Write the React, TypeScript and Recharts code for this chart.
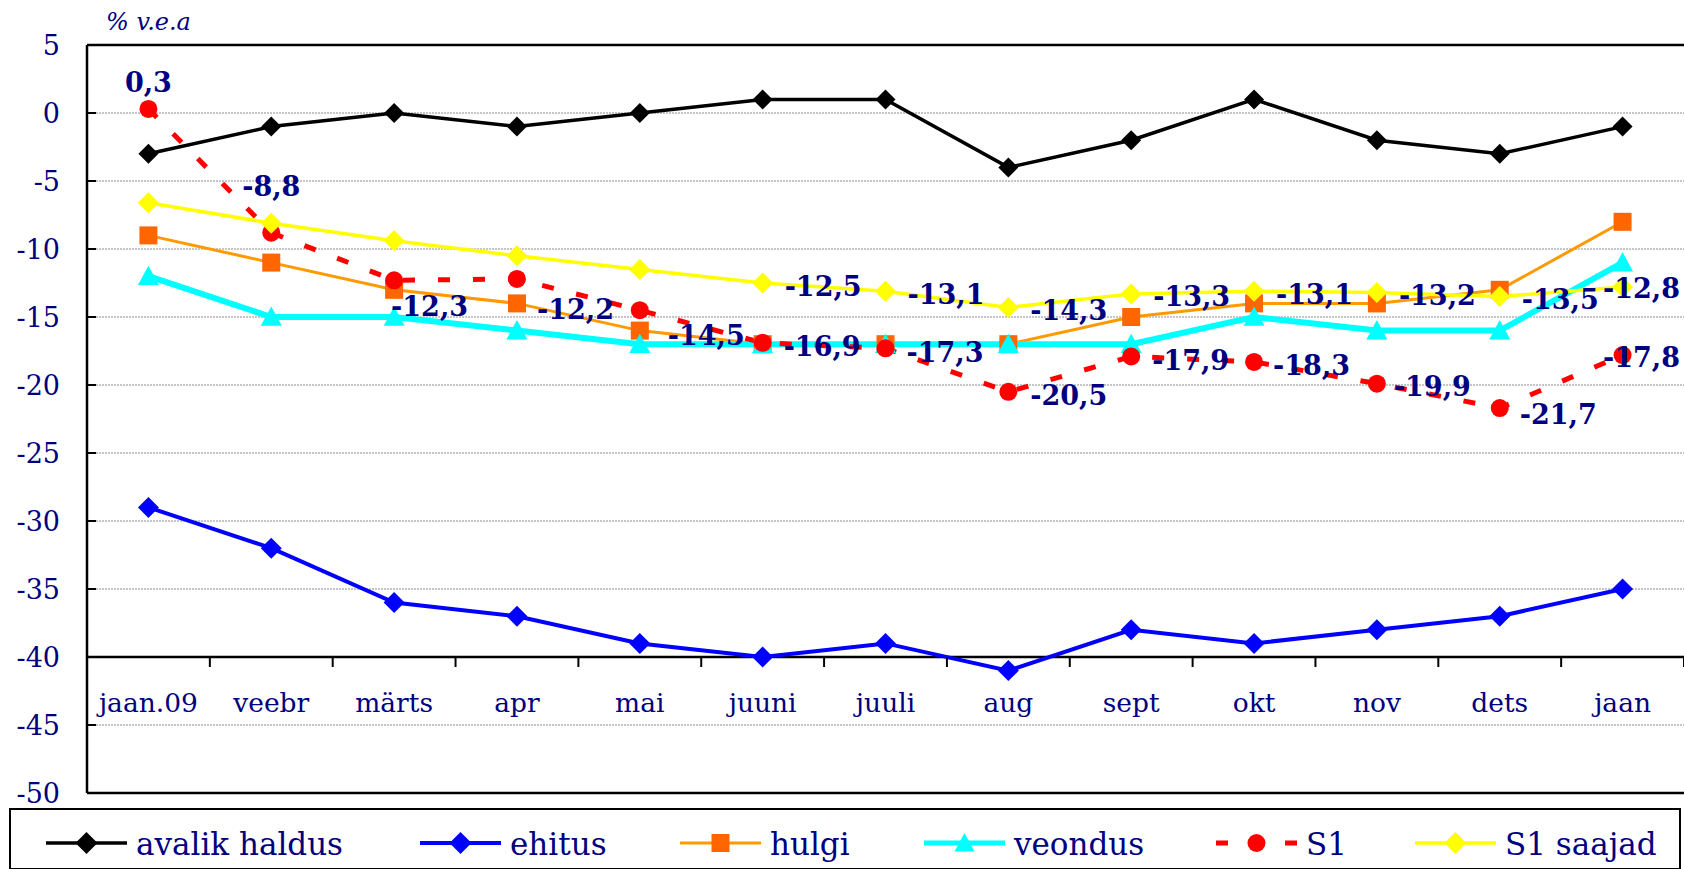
import React from 'react';
import { LineChart, Line, XAxis, YAxis, CartesianGrid, ReferenceLine, LabelList } from 'recharts';

// ---------- data ----------
const months = ['jaan.09', 'veebr', 'märts', 'apr', 'mai', 'juuni', 'juuli', 'aug', 'sept', 'okt', 'nov', 'dets', 'jaan'];
const avalikHaldus = [-3, -1, 0, -1, 0, 1, 1, -4, -2, 1, -2, -3, -1];
const ehitus = [-29, -32, -36, -37, -39, -40, -39, -41, -38, -39, -38, -37, -35];
const hulgi = [-9, -11, -13, -14, -16, -17, -17, -17, -15, -14, -14, -13, -8];
const veondus = [-12, -15, -15, -16, -17, -17, -17, -17, -17, -15, -16, -16, -11];
const s1 = [0.3, -8.8, -12.3, -12.2, -14.5, -16.9, -17.3, -20.5, -17.9, -18.3, -19.9, -21.7, -17.8];
const s1Saajad = [-6.6, -8.1, -9.4, -10.5, -11.5, -12.5, -13.1, -14.3, -13.3, -13.1, -13.2, -13.5, -12.8];
const yTicks = [5, 0, -5, -10, -15, -20, -25, -30, -35, -40, -45, -50];
const yDomain = [-50, 5];
const xAxisCrossValue = -40;
const s1SaajadLabelFrom = 5;
const yAxisTitle = '% v.e.a';

const seriesNames = ['avalik haldus', 'ehitus', 'hulgi', 'veondus', 'S1', 'S1 saajad'];

const data = months.map((m, i) => ({
  month: m,
  avalik: avalikHaldus[i],
  ehitus: ehitus[i],
  hulgi: hulgi[i],
  veondus: veondus[i],
  s1: s1[i],
  s1Saajad: s1Saajad[i],
}));

// ---------- layout ----------
const W = 1684;
const H = 869;
const PLOT_LEFT = 87;
const PLOT_TOP = 45;
const PLOT_BOTTOM = 793;
const PLOT_H = PLOT_BOTTOM - PLOT_TOP;
const PLOT_W = W - PLOT_LEFT;
const BAND = PLOT_W / months.length;
const yPix = (v: number) => PLOT_TOP + ((yDomain[1] - v) / (yDomain[1] - yDomain[0])) * PLOT_H;
const AXIS_Y = yPix(xAxisCrossValue);
const CAT_LABEL_Y = AXIS_Y + 45;
const TEXT_RIGHT = W - 4;

const FONT = '"DejaVu Serif", "Liberation Serif", serif';
const NAVY = '#000080';

const fmt = (v: number) => String(v).replace('.', ',');

// ---------- markers ----------
const Diamond = ({ cx, cy, fill, r = 10 }: any) => (
  <polygon points={`${cx},${cy - r} ${cx + r},${cy} ${cx},${cy + r} ${cx - r},${cy}`} fill={fill} stroke="none" />
);
const Square = ({ cx, cy, fill, s = 18 }: any) => (
  <rect x={cx - s / 2} y={cy - s / 2} width={s} height={s} fill={fill} stroke="none" />
);
const Triangle = ({ cx, cy, fill, s = 20 }: any) => (
  <polygon points={`${cx},${cy - s * 0.5} ${cx + s / 2},${cy + s * 0.42} ${cx - s / 2},${cy + s * 0.42}`} fill={fill} stroke="none" />
);
const Circle = ({ cx, cy, fill, r = 9 }: any) => <circle cx={cx} cy={cy} r={r} fill={fill} stroke="none" />;

const dotFn = (Shape: any, fill: string, extra: any = {}) => (p: any) => {
  if (p.cx == null || p.cy == null) return <g key={`d-${p.index}`} />;
  return <Shape key={`d-${p.index}`} cx={p.cx} cy={p.cy} fill={fill} {...extra} />;
};

// ---------- label placement ----------
type Place = [number, number, 'start' | 'middle' | 'end' | 'edge'];
const s1Place: Place[] = [
  [0, -26, 'middle'],
  [0, -46, 'middle'],
  [-3, 26, 'start'],
  [20, 31, 'start'],
  [28, 25, 'start'],
  [21, 4, 'start'],
  [21, 4, 'start'],
  [22, 4, 'start'],
  [21, 4, 'start'],
  [19, 4, 'start'],
  [17, 3, 'start'],
  [20, 6, 'start'],
  [0, 2, 'edge'],
];

const makeLabel = (placeFor: (i: number) => Place | null) => (props: any) => {
  const { index, value } = props;
  const x = props.x ?? props.viewBox?.x;
  const y = props.y ?? props.viewBox?.y;
  const place = placeFor(index);
  if (!place || x == null || y == null) return null;
  const [dx, dy, anchor] = place;
  const tx = anchor === 'edge' ? TEXT_RIGHT : x + dx;
  const ta = anchor === 'edge' ? 'end' : anchor;
  return (
    <text
      key={`l-${index}`}
      x={tx}
      y={y + dy}
      textAnchor={ta}
      dominantBaseline="central"
      fill={NAVY}
      fontFamily={FONT}
      fontWeight="bold"
      fontSize={27}
    >
      {fmt(value)}
    </text>
  );
};

const s1Label = makeLabel((i) => s1Place[i]);
const s1SaajadLabel = makeLabel((i) => {
  if (i < s1SaajadLabelFrom) return null;
  if (i === months.length - 1) return [0, 1, 'edge'];
  return [22, 3, 'start'];
});

// ---------- axes ticks ----------
const XTick = (props: any) => {
  const { x, payload } = props;
  return (
    <g>
      <text x={x} y={CAT_LABEL_Y} textAnchor="middle" dominantBaseline="central" fill={NAVY} fontFamily={FONT} fontSize={26.5}>
        {payload.value}
      </text>
      <line x1={x + BAND / 2} x2={x + BAND / 2} y1={AXIS_Y} y2={AXIS_Y + 10} stroke="#000" strokeWidth={2} />
    </g>
  );
};

const YTick = (props: any) => {
  const { y, payload } = props;
  return (
    <g>
      <text x={60} y={y} textAnchor="end" dominantBaseline="central" fill={NAVY} fontFamily={FONT} fontSize={27}>
        {payload.value}
      </text>
      <line x1={PLOT_LEFT} x2={PLOT_LEFT + 9} y1={y} y2={y} stroke="#000" strokeWidth={2} />
    </g>
  );
};

// ---------- legend ----------
const legendItems = [
  { name: seriesNames[0], color: '#000000', width: 3.5, marker: (cx: number, cy: number) => <Diamond cx={cx} cy={cy} fill="#000000" r={11} /> },
  { name: seriesNames[1], color: '#0000FF', width: 4, marker: (cx: number, cy: number) => <Diamond cx={cx} cy={cy} fill="#0000FF" r={11} /> },
  { name: seriesNames[2], color: '#FF9900', width: 3, marker: (cx: number, cy: number) => <Square cx={cx} cy={cy} fill="#FF6600" s={18} /> },
  { name: seriesNames[3], color: '#00FFFF', width: 5, marker: (cx: number, cy: number) => <Triangle cx={cx} cy={cy} fill="#00FFFF" s={20} /> },
  { name: seriesNames[4], color: '#FF0000', width: 5, dash: '12 57 12', marker: (cx: number, cy: number) => <Circle cx={cx} cy={cy} fill="#FF0000" r={9} /> },
  { name: seriesNames[5], color: '#FFFF00', width: 3.5, marker: (cx: number, cy: number) => <Diamond cx={cx} cy={cy} fill="#FFFF00" r={11} /> },
];
const legendIconLeft = [37, 411, 671, 915, 1207, 1406];

const LegendBox = () => {
  const bw = 1672;
  const bh = 62;
  const lineY = 35;
  return (
    <svg width={bw} height={bh} style={{ position: 'absolute', left: 9, top: 808 }}>
      <rect x={1} y={1} width={bw - 2} height={bh - 2} fill="#fff" stroke="#000" strokeWidth={2} />
      {legendItems.map((it, i) => {
        const lx = legendIconLeft[i];
        return (
          <g key={it.name}>
            <line x1={lx} x2={lx + 81} y1={lineY} y2={lineY} stroke={it.color} strokeWidth={it.width} strokeDasharray={it.dash} />
            {it.marker(lx + 40.5, lineY)}
            <text x={lx + 90} y={lineY + 12} fill={NAVY} fontFamily={FONT} fontSize={31}>
              {it.name}
            </text>
          </g>
        );
      })}
    </svg>
  );
};

export default function App() {
  return (
    <div style={{ position: 'absolute', left: 0, top: 0, width: W, height: H, background: '#fff', overflow: 'hidden' }}>
      <LineChart width={W} height={H} data={data} margin={{ top: PLOT_TOP, right: 0, bottom: H - PLOT_BOTTOM - 30, left: 0 }}>
        <CartesianGrid vertical={false} stroke="#8c8c8c" strokeDasharray="2 1" strokeWidth={1} />
        <XAxis dataKey="month" scale="band" height={30} axisLine={false} tickLine={false} tick={<XTick />} interval={0} />
        <YAxis
          width={PLOT_LEFT}
          domain={yDomain}
          ticks={yTicks}
          interval={0}
          allowDataOverflow
          axisLine={{ stroke: '#000', strokeWidth: 2.5 }}
          tickLine={false}
          tick={<YTick />}
          label={{
            content: () => (
              <text x={106} y={22} fill={NAVY} fontFamily={FONT} fontStyle="italic" fontSize={24} dominantBaseline="central">
                {yAxisTitle}
              </text>
            ),
          }}
        />
        <ReferenceLine y={yDomain[1]} stroke="#000" strokeWidth={2.5} />
        <ReferenceLine y={yDomain[0]} stroke="#000" strokeWidth={2.5} />
        <ReferenceLine y={xAxisCrossValue} stroke="#000" strokeWidth={2.5} />

        <Line
          name={seriesNames[0]}
          dataKey="avalik"
          stroke="#000000"
          strokeWidth={3.5}
          dot={dotFn(Diamond, '#000000', { r: 10 })}
          activeDot={false}
          isAnimationActive={false}
        />
        <Line
          name={seriesNames[1]}
          dataKey="ehitus"
          stroke="#0000FF"
          strokeWidth={4}
          dot={dotFn(Diamond, '#0000FF', { r: 10.5 })}
          activeDot={false}
          isAnimationActive={false}
        />
        <Line
          name={seriesNames[2]}
          dataKey="hulgi"
          stroke="#FF9900"
          strokeWidth={3}
          dot={dotFn(Square, '#FF6600', { s: 18 })}
          activeDot={false}
          isAnimationActive={false}
        />
        <Line
          name={seriesNames[3]}
          dataKey="veondus"
          stroke="#00FFFF"
          strokeWidth={6}
          dot={dotFn(Triangle, '#00FFFF', { s: 21 })}
          activeDot={false}
          isAnimationActive={false}
        />
        <Line
          name={seriesNames[4]}
          dataKey="s1"
          stroke="#FF0000"
          strokeWidth={5}
          strokeDasharray="12 23"
          dot={dotFn(Circle, '#FF0000', { r: 9 })}
          activeDot={false}
          isAnimationActive={false}
        >
          <LabelList dataKey="s1" content={s1Label} />
        </Line>
        <Line
          name={seriesNames[5]}
          dataKey="s1Saajad"
          stroke="#FFFF00"
          strokeWidth={3.5}
          dot={dotFn(Diamond, '#FFFF00', { r: 10.5 })}
          activeDot={false}
          isAnimationActive={false}
        >
          <LabelList dataKey="s1Saajad" content={s1SaajadLabel} />
        </Line>
      </LineChart>
      <LegendBox />
    </div>
  );
}
